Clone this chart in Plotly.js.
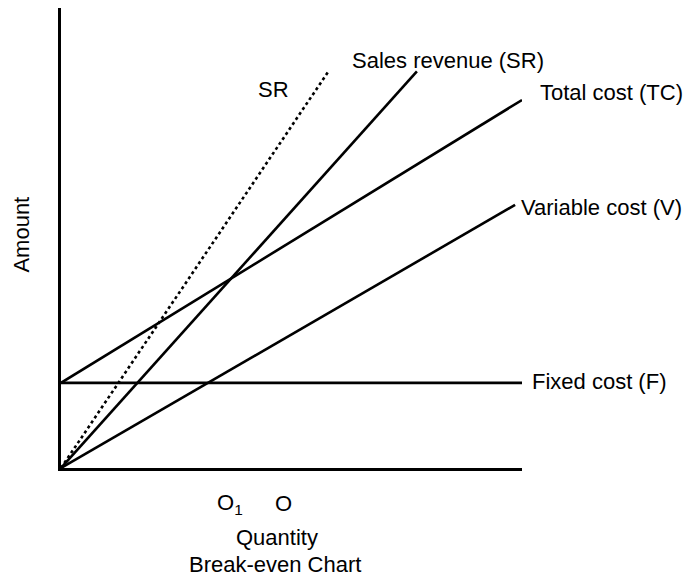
<!DOCTYPE html>
<html>
<head>
<meta charset="utf-8">
<script src="https://cdn.plot.ly/plotly-3.0.1.min.js"></script>
<style>html,body{margin:0;padding:0;background:#fff;}#chart{width:693px;height:579px;}</style>
</head>
<body>
<div id="chart"></div>
<script>
// Break-even chart values (quantity / amount units)
const quantity = [0, 10];
const fixedCost = [1.85, 1.85];
const variableQuantity = [0, 9.85];
const variableCost = [0, 5.72];
const totalCost = [1.85, 8.0];
const salesQuantity = [0, 7.72];
const salesRevenue = [0, 8.62];
const srAltQuantity = [0, 5.8];
const srAltRevenue = [0, 8.62];

const lineLabels = ["Fixed cost (F)", "Variable cost (V)", "Total cost (TC)", "Sales revenue (SR)", "SR"];
const xLabels = ["O<sub>1</sub>", "O"];
const xTitle = "Quantity";
const chartTitle = "Break-even Chart";
const yTitle = "Amount";

const ln = {color: "#000", width: 2.6};
const traces = [
  {x: quantity, y: fixedCost, mode: "lines", line: ln, hoverinfo: "skip"},
  {x: variableQuantity, y: variableCost, mode: "lines", line: ln, hoverinfo: "skip"},
  {x: quantity, y: totalCost, mode: "lines", line: ln, hoverinfo: "skip"},
  {x: salesQuantity, y: salesRevenue, mode: "lines", line: ln, hoverinfo: "skip"},
  {x: srAltQuantity, y: srAltRevenue, mode: "lines", line: {color: "#000", width: 2.6, dash: "dot"}, hoverinfo: "skip"}
];

const fnt = {family: "Liberation Sans, Arial, sans-serif", size: 22, color: "#000"};
// positions given in paper fractions of the plot area
function ann(text, px, py, xanchor, extra) {
  return Object.assign({text: text, x: px, y: py, xref: "paper", yref: "paper", showarrow: false,
    xanchor: xanchor, yanchor: "middle", font: fnt}, extra || {});
}
const annotations = [
  ann(lineLabels[0], 1.017, 0.187, "left"),
  ann(lineLabels[1], 0.993, 0.567, "left"),
  ann(lineLabels[2], 1.035, 0.817, "left"),
  ann(lineLabels[3], 0.627, 0.886, "left"),
  ann(lineLabels[4], 0.462, 0.822, "center"),
  ann(xLabels[0], 0.367, -0.078, "center"),
  ann(xLabels[1], 0.482, -0.078, "center"),
  ann(xTitle, 0.469, -0.152, "center"),
  ann(chartTitle, 0.465, -0.21, "center"),
  ann(yTitle, -0.085, 0.507, "center", {textangle: -90})
];

const layout = {
  width: 693, height: 579,
  margin: {l: 61, r: 171, t: 8, b: 111},
  paper_bgcolor: "#fff", plot_bgcolor: "#fff",
  showlegend: false,
  xaxis: {range: [0, 10], showline: true, linecolor: "#000", linewidth: 2.6, showgrid: false,
          zeroline: false, showticklabels: false, ticks: "", fixedrange: true},
  yaxis: {range: [0, 10], showline: true, linecolor: "#000", linewidth: 2.6, showgrid: false,
          zeroline: false, showticklabels: false, ticks: "", fixedrange: true},
  annotations: annotations
};
Plotly.newPlot("chart", traces, layout, {staticPlot: true, displayModeBar: false});
</script>
</body>
</html>
